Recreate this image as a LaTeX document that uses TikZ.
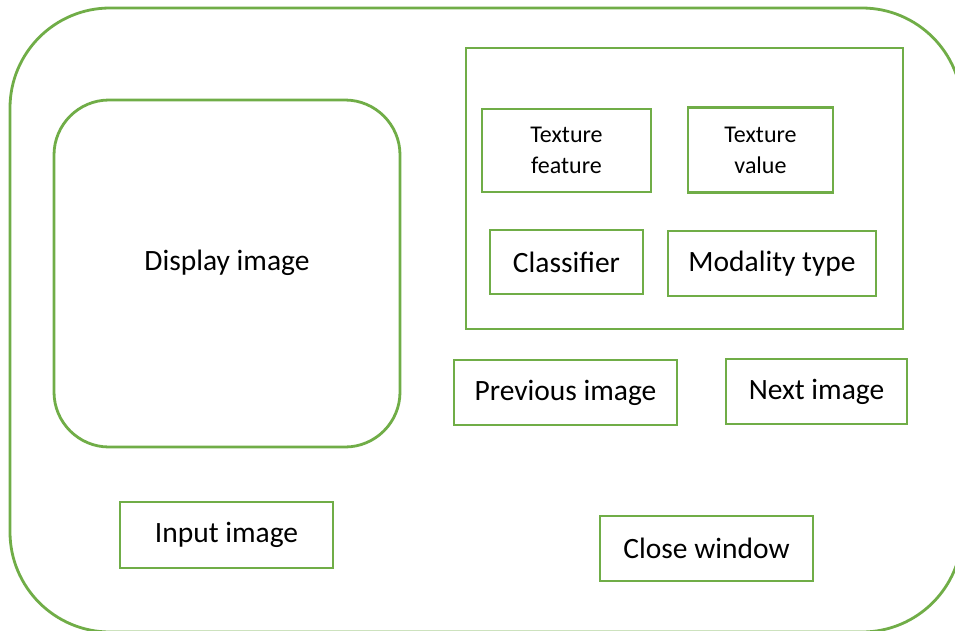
\documentclass[tikz,border=0pt]{standalone}
\usepackage{fontspec}
\setmainfont{Carlito}
\definecolor{grn}{HTML}{70AD47}
\begin{document}
\begin{tikzpicture}[x=1pt,y=-1pt,
  edge/.style={draw=grn, line width=2.8pt},
  box/.style={edge, rectangle, inner sep=0pt, font=\fontsize{29.5}{34}\selectfont, align=center},
  sbox/.style={box, font=\fontsize{24}{31}\selectfont}]
\useasboundingbox (0,0) rectangle (955,630);
\fill[white] (0,0) rectangle (955,630);
% outer frame
\node[edge, rounded corners=100pt, inner sep=0pt, minimum width=952pt, minimum height=624pt] (frame) at (486,320) {};
% display image
\node[edge, rounded corners=55pt, inner sep=0pt, minimum width=346pt, minimum height=347pt] (disp) at (227,273.5) {};
\node[font=\fontsize{29.5}{34}\selectfont] (displbl) at (227,263) {Display image};
% container
\node[edge, inner sep=0pt, minimum width=437pt, minimum height=281pt] (panel) at (684.5,188.5) {};
\node[sbox, minimum width=169pt, minimum height=83pt] (tf) at (566.5,150.5) {Texture\\feature};
\node[sbox, minimum width=145pt, minimum height=85pt] (tv) at (760.5,150) {Texture\\value};
\node[box, minimum width=153pt, minimum height=64pt] (cls) at (566.5,262) {Classifier};
\node[box, minimum width=208pt, minimum height=65pt] (mod) at (772,263.5) {Modality type};
\node[box, minimum width=223pt, minimum height=65pt] (prev) at (565.5,392.5) {Previous image};
\node[box, minimum width=181pt, minimum height=65pt] (next) at (816.5,391.5) {Next image};
\node[box, minimum width=213pt, minimum height=66pt] (inp) at (226.5,535) {Input image};
\node[box, minimum width=213pt, minimum height=65pt] (close) at (706.5,548.5) {Close window};
\end{tikzpicture}
\end{document}
